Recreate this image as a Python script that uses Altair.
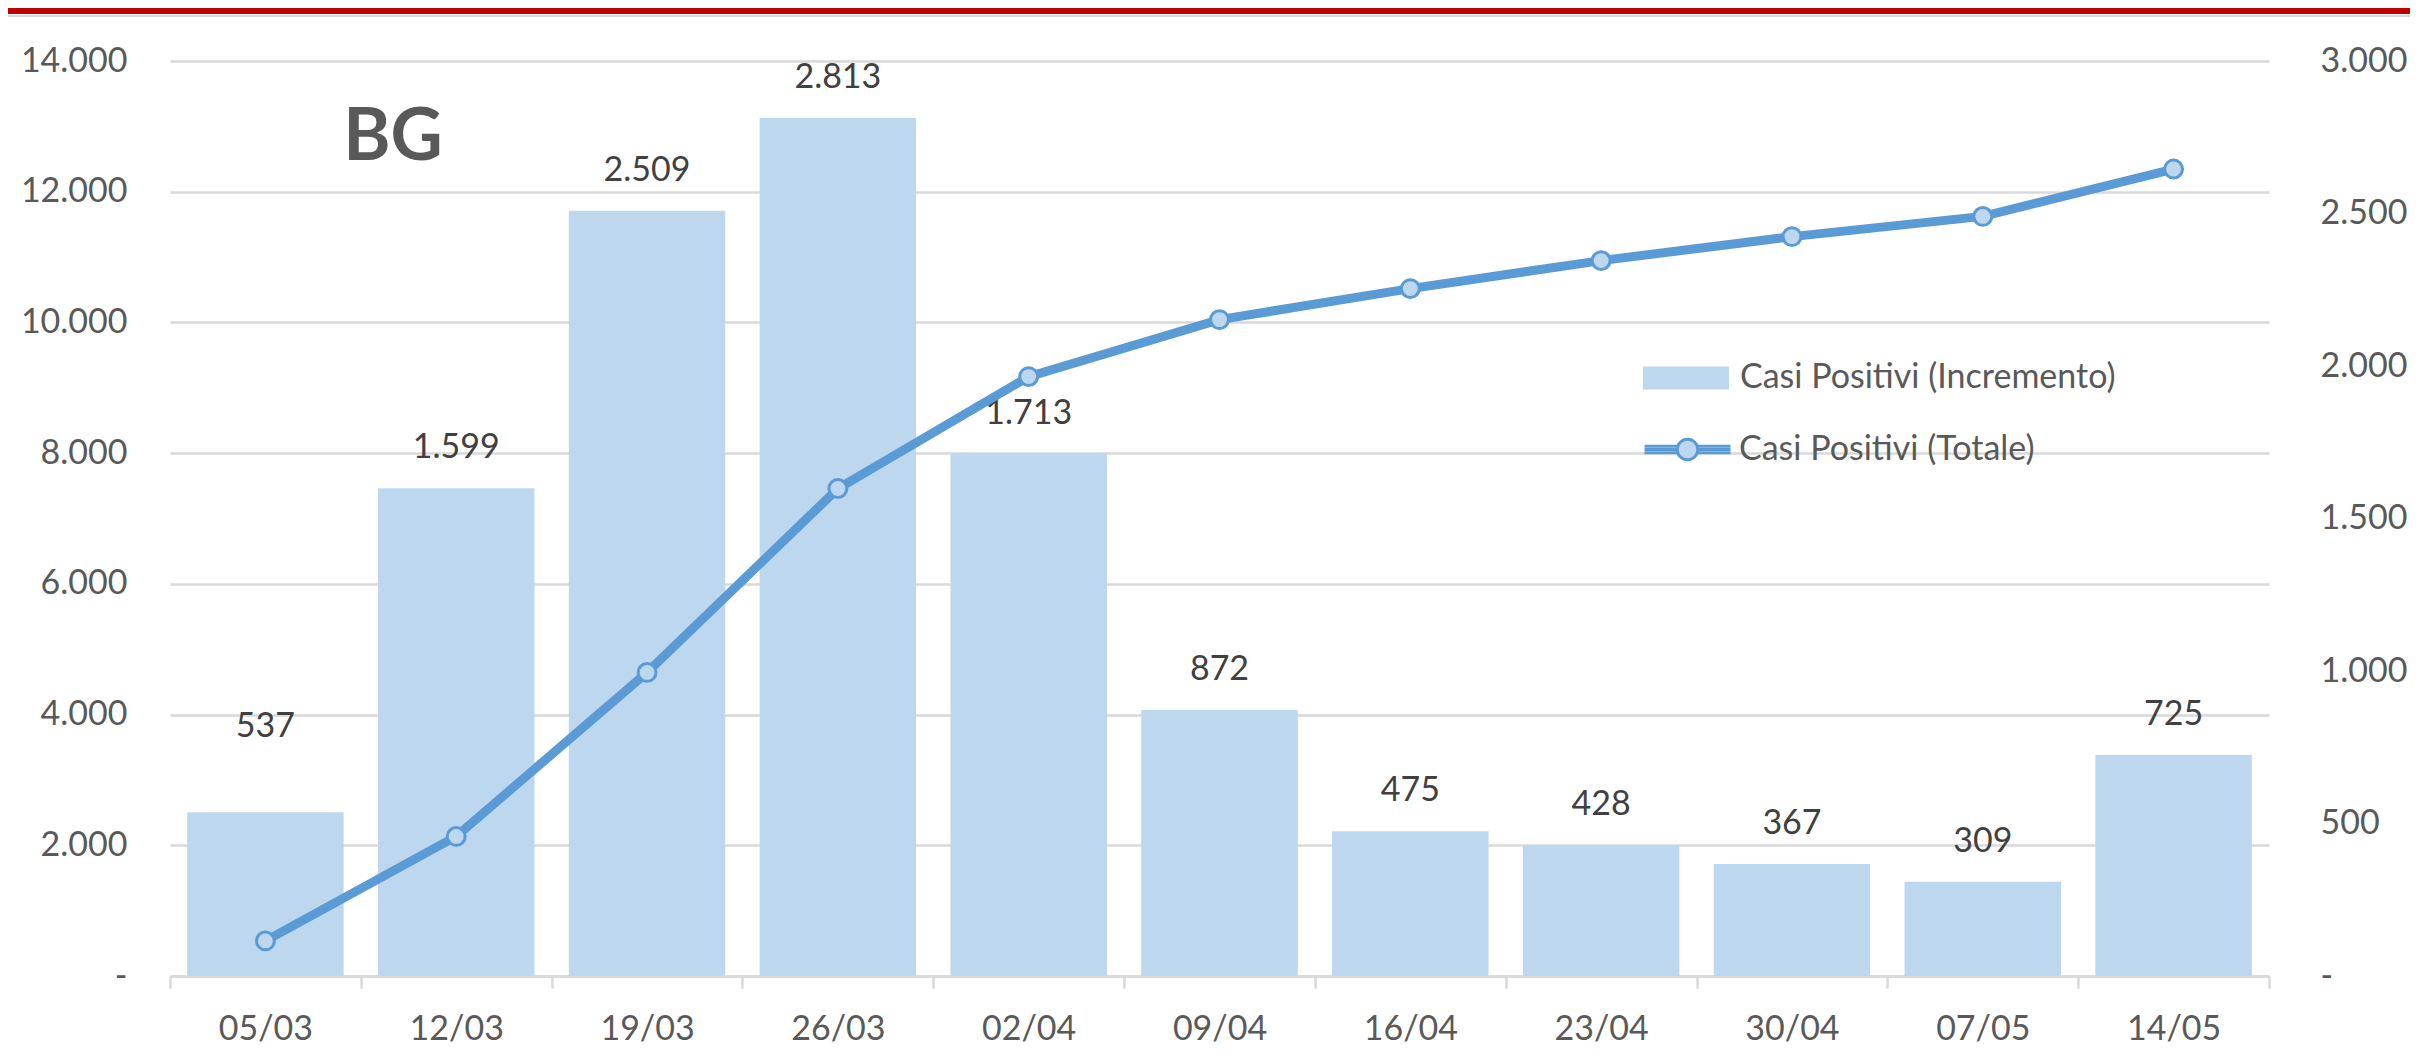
import altair as alt
import pandas as pd

dates = ["05/03", "12/03", "19/03", "26/03", "02/04", "09/04", "16/04", "23/04", "30/04", "07/05", "14/05"]
incremento = [537, 1599, 2509, 2813, 1713, 872, 475, 428, 367, 309, 725]
totale = [537, 2136, 4645, 7458, 9171, 10043, 10518, 10946, 11313, 11622, 12347]
left_ticks = [0, 2000, 4000, 6000, 8000, 10000, 12000, 14000]
right_ticks = [0, 500, 1000, 1500, 2000, 2500, 3000]
serie_inc = "Casi Positivi (Incremento)"
serie_tot = "Casi Positivi (Totale)"
title_text = "BG"

df = pd.DataFrame({"date": dates, "inc": incremento, "tot": totale,
                   "s_inc": serie_inc, "s_tot": serie_tot})

FONT = "Lato"
LABEL = "#595959"
GRID = "#D9D9D9"
BAR = "#BDD7EE"
LINE = "#5B9BD5"
W, H = 2099, 915

it_fmt = "datum.value == 0 ? '-' : replace(format(datum.value, ','), ',', '.')"

base = alt.Chart(df)

x_axis = alt.Axis(title=None, labelAngle=0, tickBand="extent",
                  domainColor=GRID, domainWidth=2.5,
                  tickColor=GRID, tickWidth=2.5, tickSize=12,
                  labelPadding=24, labelBaseline="top",
                  labelFont=FONT, labelFontSize=34, labelColor=LABEL,
                  grid=False)
x_enc = alt.X("date:N", sort=dates,
              scale=alt.Scale(paddingInner=0, paddingOuter=0), axis=x_axis)

right_axis = alt.Axis(orient="right", values=right_ticks, labelExpr=it_fmt,
                      labelAlign="left", grid=False, domain=False, ticks=False,
                      labelPadding=51, title=None, labelFont=FONT,
                      labelFontSize=34, labelColor=LABEL)
y_right = alt.Y("inc:Q", scale=alt.Scale(domain=[0, 3000], nice=False), axis=right_axis)

left_axis = alt.Axis(orient="left", values=left_ticks, labelExpr=it_fmt,
                     grid=True, gridColor=GRID, gridWidth=2.5,
                     domain=False, ticks=False, labelPadding=43, title=None,
                     labelFont=FONT, labelFontSize=34, labelColor=LABEL)
y_left = alt.Y("tot:Q", scale=alt.Scale(domain=[0, 14000], nice=False), axis=left_axis)

rect_path = "M-1,-0.267L1,-0.267L1,0.267L-1,0.267Z"
line_path = ("M-1,-0.075L-0.22,-0.075M-1,0L-0.22,0M-1,0.075L-0.22,0.075"
             "M0.22,-0.075L1,-0.075M0.22,0L1,0M0.22,0.075L1,0.075"
             "M0.24,0A0.24,0.24,0,1,1,-0.24,0A0.24,0.24,0,1,1,0.24,0Z")

bars = base.mark_bar(width=alt.RelativeBandSize(0.82)).encode(
    x=x_enc,
    y=y_right,
    fill=alt.Fill("s_inc:N", scale=alt.Scale(domain=[serie_inc], range=[BAR]),
                  legend=alt.Legend(title=None, orient="none", legendX=1473, legendY=274,
                                    symbolType=rect_path, symbolSize=7396,
                                    symbolStrokeWidth=0, labelOffset=11,
                                    labelFont=FONT, labelFontSize=34, labelColor=LABEL,
                                    labelLimit=800, padding=0)),
)

lab = base.transform_calculate(
    lbl="replace(format(datum.inc, ','), ',', '.')"
)
labels_main = lab.transform_filter(alt.datum.date != dates[0]).mark_text(
    font=FONT, fontSize=34, color="#404040", baseline="alphabetic", dy=-30
).encode(x=x_enc, y=y_right, text="lbl:N")
labels_first = lab.transform_filter(alt.datum.date == dates[0]).mark_text(
    font=FONT, fontSize=34, color="#404040", baseline="alphabetic", dy=-75
).encode(x=x_enc, y=y_right, text="lbl:N")

bar_layer = alt.layer(bars, labels_main, labels_first)

line = base.mark_line(strokeWidth=9).encode(
    x=x_enc,
    y=y_left,
    stroke=alt.Stroke("s_tot:N", scale=alt.Scale(domain=[serie_tot], range=[LINE]),
                      legend=alt.Legend(title=None, orient="none", legendX=1473, legendY=344,
                                        symbolType=line_path, symbolSize=7396,
                                        symbolStrokeWidth=3, symbolFillColor=BAR,
                                        labelOffset=7, labelFont=FONT, labelFontSize=34,
                                        labelColor=LABEL, labelLimit=800, padding=0)),
)
points = base.mark_circle(size=320, color=BAR, stroke=LINE, strokeWidth=3, opacity=1).encode(
    x=x_enc,
    y=y_left,
)
line_layer = alt.layer(line, points)

deco = alt.Chart(alt.Data(values=[{"t": title_text}]))
red_line = deco.mark_rule(color="#C00000", strokeWidth=7).encode(
    x=alt.value(-162), x2=alt.value(2248), y=alt.value(-50.5))
gray_line = deco.mark_rule(color=GRID, strokeWidth=2).encode(
    x=alt.value(-162), x2=alt.value(2248), y=alt.value(-45))
bg_text = deco.mark_text(font=FONT, fontSize=72, fontWeight="bold", color=LABEL,
                         align="center", baseline="alphabetic").encode(
    x=alt.value(223), y=alt.value(99), text="t:N")

chart = alt.layer(bar_layer, line_layer, red_line, gray_line, bg_text).resolve_scale(
    y="independent"
).properties(
    width=W, height=H,
    autosize=alt.AutoSizeParams(type="none"),
    padding={"left": 162, "top": 53, "right": 141, "bottom": 78},
    background="white",
).configure_view(stroke=None)

chart.save("out.html", embed_options={"renderer": "svg", "actions": False})
